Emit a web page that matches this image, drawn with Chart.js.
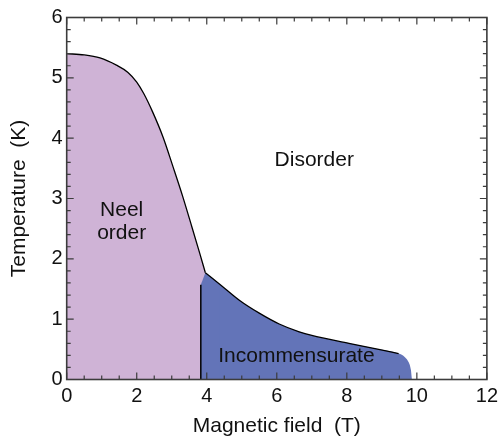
<!DOCTYPE html>
<html>
<head>
<meta charset="utf-8">
<script src="https://cdn.jsdelivr.net/npm/chart.js@4.4.1/dist/chart.umd.min.js"></script>
<style>
  html, body { margin: 0; padding: 0; background: #fff; }
  canvas { display: block; }
</style>
</head>
<body>
<canvas id="chart" width="503" height="437"></canvas>
<script>
// Phase boundary: Neel order -> disorder (ends at the kink)
const neelField = [0, 0.5, 0.95, 1.42, 1.75, 2.0, 2.2, 2.45, 2.75, 3.04, 3.31, 3.58, 3.80, 3.96];
const neelTemp  = [5.40, 5.38, 5.33, 5.21, 5.09, 4.93, 4.74, 4.44, 4.02, 3.52, 3.04, 2.52, 2.09, 1.77];

// Incommensurate -> disorder boundary (from the kink down to the field axis)
const incField = [3.96, 4.37, 4.94, 5.50, 6.07, 6.64, 7.0, 8.06, 8.91, 9.48, 9.66, 9.77, 9.83, 9.86];
const incTemp  = [1.77, 1.58, 1.31, 1.10, 0.92, 0.79, 0.73, 0.60, 0.50, 0.43, 0.37, 0.28, 0.16, 0];
const incLineEnd = 10; // the black line stops at 9.48 T, the rounded corner has no outline

// Neel / incommensurate split (vertical line)
const splitField = [3.83, 3.83];
const splitTemp  = [0, 1.57];

const xTicks = [0, 2, 4, 6, 8, 10, 12];
const yTicks = [0, 1, 2, 3, 4, 5, 6];

const FONT = "'Liberation Sans', Arial, Helvetica, sans-serif";
const NEEL_COLOR = 'rgb(207, 179, 214)';
const INC_COLOR = 'rgb(99, 116, 184)';
const FRAME_COLOR = '#3c3c3c';

const pts = (xs, ys) => xs.map((x, i) => ({ x: x, y: ys[i] }));

const phaseLabels = [
  { text: 'Disorder', x: 7.07, y: 3.64 },
  { text: 'Neel', x: 1.57, y: 2.81 },
  { text: 'order', x: 1.57, y: 2.43 },
  { text: 'Incommensurate', x: 6.56, y: 0.38 }
];

// box frame with inward major/minor ticks on all four sides, plus the phase names
const framePlugin = {
  id: 'frame',
  afterDatasetsDraw(chart) {
    const { ctx, chartArea: a, scales: { x, y } } = chart;
    ctx.save();
    ctx.strokeStyle = FRAME_COLOR;
    ctx.lineWidth = 1.6;
    ctx.strokeRect(a.left, a.top, a.right - a.left, a.bottom - a.top);
    ctx.lineWidth = 1.2;
    ctx.beginPath();
    for (let v = 0; v <= 12.001; v += 0.5) {
      const px = x.getPixelForValue(v);
      const len = Math.abs(v / 2 - Math.round(v / 2)) < 1e-6 ? 7 : 4;
      ctx.moveTo(px, a.bottom); ctx.lineTo(px, a.bottom - len);
      ctx.moveTo(px, a.top); ctx.lineTo(px, a.top + len);
    }
    for (let v = 0; v <= 6.001; v += 0.2) {
      const py = y.getPixelForValue(v);
      const len = Math.abs(v - Math.round(v)) < 1e-6 ? 7 : 4;
      ctx.moveTo(a.left, py); ctx.lineTo(a.left + len, py);
      ctx.moveTo(a.right, py); ctx.lineTo(a.right - len, py);
    }
    ctx.stroke();

    ctx.fillStyle = '#111';
    ctx.font = '21px ' + FONT;
    ctx.textAlign = 'center';
    ctx.textBaseline = 'middle';
    phaseLabels.forEach(l => {
      ctx.fillText(l.text, x.getPixelForValue(l.x), y.getPixelForValue(l.y));
    });
    ctx.restore();
  }
};

const baseLine = {
  showLine: true,
  pointRadius: 0,
  cubicInterpolationMode: 'monotone'
};

new Chart(document.getElementById('chart'), {
  type: 'scatter',
  data: {
    datasets: [
      { ...baseLine, data: pts(neelField, neelTemp), borderWidth: 0, backgroundColor: NEEL_COLOR, fill: 'origin', order: 5 },
      { ...baseLine, data: pts(incField, incTemp), borderWidth: 0, backgroundColor: INC_COLOR, fill: 'origin', order: 4 },
      // small wedge between the split line and the kink, overlapping the main blue area
      { ...baseLine, data: pts([splitField[1]].concat(incField.slice(0, 2)), [splitTemp[1]].concat(incTemp.slice(0, 2))),
        borderWidth: 0, backgroundColor: INC_COLOR, fill: 'origin', order: 3, cubicInterpolationMode: 'default', tension: 0 },
      { ...baseLine, data: pts(neelField, neelTemp), borderColor: '#000', borderWidth: 1.3, fill: false, order: 1 },
      { ...baseLine, data: pts(incField.slice(0, incLineEnd), incTemp.slice(0, incLineEnd)), borderColor: '#000', borderWidth: 1.3, fill: false, order: 1 },
      { ...baseLine, data: pts(splitField, splitTemp), borderColor: '#000', borderWidth: 1.5, fill: false, order: 1, cubicInterpolationMode: 'default', tension: 0 }
    ]
  },
  options: {
    responsive: false,
    animation: false,
    layout: { padding: { top: 17.5, right: 14.7, left: 0, bottom: 0 } },
    plugins: { legend: { display: false }, tooltip: { enabled: false } },
    scales: {
      x: {
        type: 'linear', min: 0, max: 12,
        afterBuildTicks: s => { s.ticks = xTicks.map(v => ({ value: v })); },
        afterFit: s => { s.height = 57.5; },
        grid: { display: false, drawTicks: false },
        border: { display: false },
        ticks: { padding: 5, color: '#111', font: { family: FONT, size: 20 } },
        title: { display: true, text: 'Magnetic field  (T)', color: '#111', padding: { top: 0, bottom: 0 }, font: { family: FONT, size: 21, lineHeight: 1 } }
      },
      y: {
        type: 'linear', min: 0, max: 6,
        afterBuildTicks: s => { s.ticks = yTicks.map(v => ({ value: v })); },
        afterFit: s => { s.width = 66.7; },
        grid: { display: false, drawTicks: false },
        border: { display: false },
        ticks: { padding: 4, color: '#111', font: { family: FONT, size: 20 } },
        title: { display: true, text: 'Temperature  (K)', color: '#111', padding: { top: 9, bottom: 0 }, font: { family: FONT, size: 21, lineHeight: 1 } }
      }
    }
  },
  plugins: [framePlugin]
});
</script>
</body>
</html>
